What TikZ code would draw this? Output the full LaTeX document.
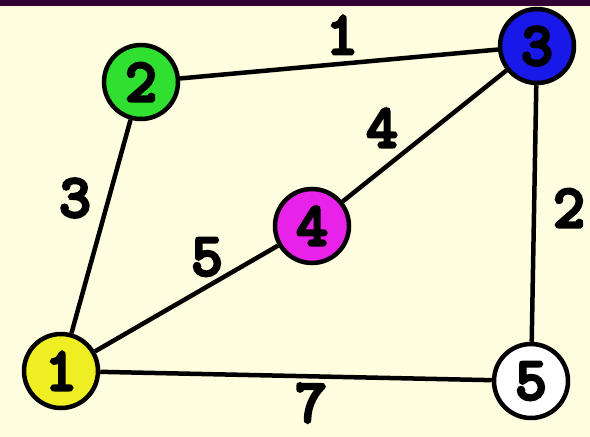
\documentclass[tikz,border=0pt]{standalone}
\usepackage{fontspec}
\newfontfamily\numfont{Latin Modern Mono}[FakeBold=6]
\definecolor{paper}{HTML}{FFFDE0}
\definecolor{band}{HTML}{330033}
\definecolor{vyellow}{HTML}{EEEE22}
\definecolor{vgreen}{HTML}{30E030}
\definecolor{vblue}{HTML}{1818E8}
\definecolor{vmagenta}{HTML}{E822E8}

\begin{document}
\begin{tikzpicture}
[
	x=1pt, y=-1pt,
	vertex/.style={circle,draw,line width=4.5pt,minimum size=74pt,inner sep=0pt,font=\fontsize{60}{60}\numfont},
	weight/.style={inner sep=0pt,font=\fontsize{60}{60}\numfont}
]

	% background
	\fill[paper] (0,0) rectangle (590,437);
	\fill[band] (0,0) rectangle (590,6);
	\useasboundingbox (0,0) rectangle (590,437);

	% vertices
	\node[vertex,fill=vyellow] (v1) at (61,371) {1};
	\node[vertex,fill=vgreen] (v2) at (141,82) {2};
	\node[vertex,fill=vblue] (v3) at (537,46) {3};
	\node[vertex,fill=vmagenta] (v4) at (312,226) {4};
	\node[vertex,fill=white] (v5) at (531,381) {5};

	% edges
	\draw[line width=4.5pt] (v2) -- (v3);
	\draw[line width=4.5pt] (v2) -- (v1);
	\draw[line width=4.5pt] (v1) -- (v4);
	\draw[line width=4.5pt] (v4) -- (v3);
	\draw[line width=4.5pt] (v3) -- (v5);
	\draw[line width=4.5pt] (v1) -- (v5);

	% weights
	\node[weight] (w23) at (342,35) {1};
	\node[weight] (w12) at (75,198) {3};
	\node[weight] (w14) at (207,257) {5};
	\node[weight] (w34) at (382,128) {4};
	\node[weight] (w35) at (569,208) {2};
	\node[weight] (w15) at (311,403) {7};

\end{tikzpicture}
\end{document}
